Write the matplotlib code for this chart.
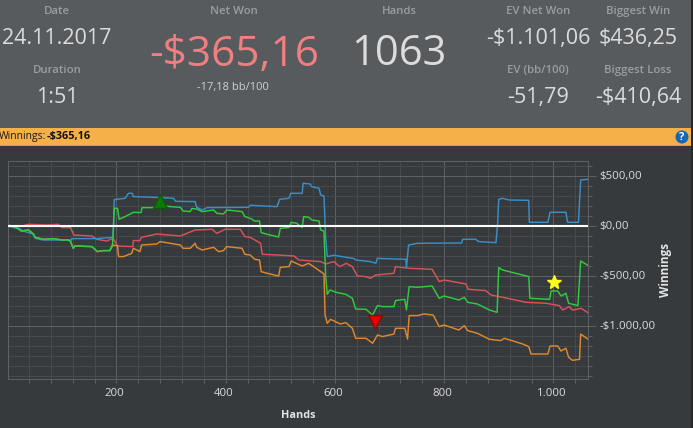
import matplotlib
matplotlib.use("Agg")
import matplotlib.pyplot as plt
from matplotlib.patches import Rectangle, Circle
from matplotlib.ticker import MultipleLocator, FixedLocator, FixedFormatter
from matplotlib.transforms import ScaledTranslation

plt.rcParams['font.family'] = ['Open Sans', 'DejaVu Sans']

# hands / dollars
blue_x = [2, 23, 29, 48, 51, 66, 97, 118, 118, 164, 194, 196, 216, 222, 229, 231, 268, 305, 308, 344, 347, 357, 366, 442, 445, 494, 499, 516, 519, 540, 542, 555, 557, 571, 574, 580, 583, 586, 598, 621, 635, 638, 665, 675, 678, 687, 730, 731, 735, 751, 832, 834, 858, 863, 895, 898, 900, 907, 919, 955, 956, 990, 994, 1023, 1026, 1046, 1050, 1063]
blue_y = [0, -27, -47, -77, -120, -137, -137, -137, -123, -123, -110, 267, 280, 330, 330, 297, 290, 280, 250, 247, 190, 163, 187, 190, 210, 197, 270, 280, 330, 330, 430, 423, 397, 380, 313, 303, -103, -303, -290, -310, -323, -337, -353, -370, -320, -323, -330, -410, -187, -170, -167, -130, -130, -153, -163, 30, 270, 280, 263, 260, 40, 40, 140, 140, 40, 40, 463, 470]

green_x = [2, 17, 26, 39, 48, 51, 66, 85, 100, 112, 116, 121, 124, 155, 165, 176, 188, 193, 196, 202, 205, 216, 231, 245, 247, 268, 280, 298, 317, 322, 335, 338, 347, 357, 378, 384, 396, 402, 430, 435, 445, 453, 462, 465, 476, 497, 500, 516, 520, 530, 540, 543, 552, 558, 571, 574, 580, 583, 586, 591, 604, 620, 632, 638, 657, 669, 678, 687, 708, 711, 728, 731, 736, 751, 778, 791, 800, 827, 837, 843, 861, 883, 897, 900, 907, 955, 957, 993, 996, 1008, 1014, 1023, 1028, 1045, 1050, 1063]
green_y = [13, -13, -47, -37, -77, -110, -130, -123, -137, -137, -153, -220, -197, -203, -253, -243, -243, -177, 180, 180, 70, 97, 140, 137, 187, 187, 213, 197, 190, 153, 147, 177, 173, 147, 163, 130, 123, 163, 147, 97, 80, 53, 53, -63, -80, -107, -20, -13, 40, 30, -13, 97, 90, 63, 53, -37, -47, -487, -680, -637, -663, -680, -720, -827, -830, -887, -793, -803, -803, -743, -730, -837, -603, -610, -597, -720, -697, -737, -710, -760, -777, -837, -860, -413, -437, -503, -720, -730, -647, -647, -697, -670, -770, -793, -347, -390]

red_x = [2, 23, 39, 72, 94, 100, 116, 122, 155, 164, 182, 194, 202, 230, 231, 243, 246, 274, 317, 344, 375, 384, 399, 427, 435, 445, 464, 467, 494, 525, 534, 574, 583, 598, 609, 621, 632, 641, 657, 665, 675, 708, 711, 736, 778, 791, 800, 840, 844, 876, 886, 907, 950, 987, 1011, 1017, 1029, 1035, 1051, 1063]
red_y = [3, -3, 20, 13, 20, -13, -13, -87, -97, -130, -147, -120, -197, -203, -143, -143, -110, -77, -97, -37, -30, -70, -30, -30, -103, -110, -170, -280, -287, -297, -337, -353, -377, -353, -403, -370, -403, -497, -503, -520, -487, -470, -403, -420, -430, -553, -537, -577, -630, -643, -687, -710, -760, -770, -793, -837, -803, -837, -820, -863]

orange_x = [2, 17, 26, 39, 48, 51, 66, 85, 100, 112, 116, 121, 124, 155, 165, 176, 188, 194, 202, 204, 213, 228, 231, 243, 246, 274, 280, 317, 322, 335, 344, 347, 357, 378, 387, 396, 402, 430, 435, 445, 453, 462, 465, 476, 497, 500, 516, 520, 540, 552, 574, 580, 582, 586, 592, 610, 620, 632, 638, 657, 669, 678, 687, 708, 711, 728, 733, 736, 751, 763, 780, 791, 800, 827, 837, 843, 861, 883, 904, 910, 944, 955, 959, 990, 994, 1008, 1014, 1023, 1028, 1035, 1048, 1050, 1063]
orange_y = [13, -13, -47, -37, -77, -110, -130, -123, -137, -137, -153, -220, -197, -203, -253, -243, -243, -187, -197, -303, -303, -270, -220, -253, -187, -177, -153, -187, -220, -220, -170, -210, -237, -210, -253, -243, -203, -220, -280, -287, -330, -337, -453, -470, -497, -410, -403, -347, -397, -370, -453, -477, -887, -970, -930, -977, -963, -1020, -1120, -1120, -1170, -1087, -1103, -1077, -1020, -1020, -1127, -893, -893, -877, -887, -1003, -987, -1037, -993, -1043, -1070, -1130, -1143, -1120, -1177, -1203, -1277, -1277, -1197, -1197, -1247, -1220, -1310, -1340, -1330, -1077, -1127]

x_ticks = [200, 400, 600, 800, 1000]
x_labels = ['200', '400', '600', '800', '1.000']
y_ticks = [500, 0, -500, -1000]
y_labels = [r'\$500,00', r'\$0,00', r'-\$500,00', r'-\$1.000,00']

fig = plt.figure(figsize=(6.93, 4.28), dpi=100, facecolor='#373a3d')

# background panels, in pixel coordinates
bg = fig.add_axes([0, 0, 1, 1])
bg.set_xlim(0, 693)
bg.set_ylim(428, 0)
bg.axis('off')
bg.add_patch(Rectangle((0, 0), 693, 128, color='#585b5e', lw=0))
bg.add_patch(Rectangle((0, 128), 693, 17, color='#f5b049', lw=0))
bg.add_patch(Rectangle((0, 144.5), 693, 1.5, color='#d99c40', lw=0))
bg.add_patch(Rectangle((691, 0), 2, 428, color='#26282a', lw=0))
bg.add_patch(Circle((682, 137), 6.5, color='#1668b0', lw=0))
bg.text(682, 137, '?', color='white', fontsize=8, fontweight='bold', ha='center', va='center')

label_col = '#9b9d9f'
value_col = '#dcdcdc'
for x, y, s in [(57, 11, 'Date'), (234, 11, 'Net Won'), (399, 11, 'Hands'), (538, 11, 'EV Net Won'),
                (638, 11, 'Biggest Win'), (57, 70, 'Duration'), (538, 70, 'EV (bb/100)'), (638, 70, 'Biggest Loss')]:
    bg.text(x, y, s, color=label_col, fontsize=8.2, fontweight='semibold', ha='center', va='center')
for x, y, s in [(57, 38, '24.11.2017'), (57, 97, '1:51'), (538, 38, r'-\$1.101,06'),
                (638, 38, r'\$436,25'), (538, 97, '-51,79'), (638, 97, r'-\$410,64')]:
    bg.text(x, y, s, color=value_col, fontsize=15.5, ha='center', va='center')
bg.text(234, 55, r'-\$365,16', color='#ef7f80', fontsize=30.5, ha='center', va='center')
bg.text(399, 54, '1063', color=value_col, fontsize=30, ha='center', va='center')
bg.text(233, 87, r'-17,18 bb/100', color='#d0d0d0', fontsize=8, ha='center', va='center')
bg.text(-1, 137, 'Winnings:', color='#1a1a1a', fontsize=7.5, ha='left', va='center')
bg.text(47, 137, r'-\$365,16', color='#111111', fontsize=7.8, fontweight='bold', ha='left', va='center')

# chart
ax = fig.add_axes([8.3 / 693, 1 - 379.3 / 428, 580 / 693, 218 / 428], facecolor='#373a3d')
ax.set_xlim(2, 1064)
ax.set_ylim(-1530, 650)

ax.xaxis.set_major_locator(FixedLocator(x_ticks))
ax.xaxis.set_major_formatter(FixedFormatter(x_labels))
ax.xaxis.set_minor_locator(MultipleLocator(40))
ax.yaxis.set_major_locator(FixedLocator(y_ticks))
ax.yaxis.set_major_formatter(FixedFormatter(y_labels))
ax.yaxis.set_minor_locator(MultipleLocator(100))
ax.yaxis.tick_right()

ax.grid(which='major', color='#5e6164', lw=0.75)
ax.grid(which='minor', color='#47494d', lw=0.75)
ax.set_axisbelow(True)
ax.tick_params(axis='x', which='both', colors='#dcdcdc', labelsize=8.2, length=3, width=0.75, color='#5e6164', pad=3.5)
ax.tick_params(axis='y', which='major', colors='#dcdcdc', labelsize=8.2, length=6, width=0.75, color='#5e6164', pad=2)
ax.tick_params(axis='y', which='minor', length=3, width=0.75, color='#5e6164')
for sp in ax.spines.values():
    sp.set_color('#5e6164')
    sp.set_linewidth(0.75)

# tick labels sit a little off their grid lines in the original
for lab in ax.get_xticklabels():
    lab.set_transform(lab.get_transform() + ScaledTranslation(-2 / 100, 0, fig.dpi_scale_trans))
for lab in ax.get_yticklabels():
    lab.set_transform(lab.get_transform() + ScaledTranslation(0, 1.5 / 100, fig.dpi_scale_trans))

ax.plot(red_x, red_y, color='#d9525a', lw=1.05)
ax.plot(orange_x, orange_y, color='#e0882e', lw=1.05)
ax.plot(blue_x, blue_y, color='#3a8fc8', lw=1.05)
ax.plot(green_x, green_y, color='#2fcc3f', lw=1.05)
ax.axhline(0, color='white', lw=1.5, zorder=5)

ax.plot(280, 250, marker='^', ms=9.5, color='#0b7a0b', mec='#0a5a0a', zorder=6)
ax.plot(673, -953, marker='v', ms=10, color='#e60000', mec='#7a1010', zorder=6)
ax.plot(1001, -557, marker='*', ms=10, color='#ffff1a', mec='#ffff1a', zorder=6)

bg.text(298, 416, 'Hands', color='#e4e4e4', fontsize=7.8, fontweight='bold', ha='center', va='center')
bg.text(666, 270, 'Winnings', color='#e4e4e4', fontsize=8.5, fontweight='bold', rotation=90, ha='center', va='center')

fig.savefig('out.png', dpi=100, facecolor=fig.get_facecolor())
